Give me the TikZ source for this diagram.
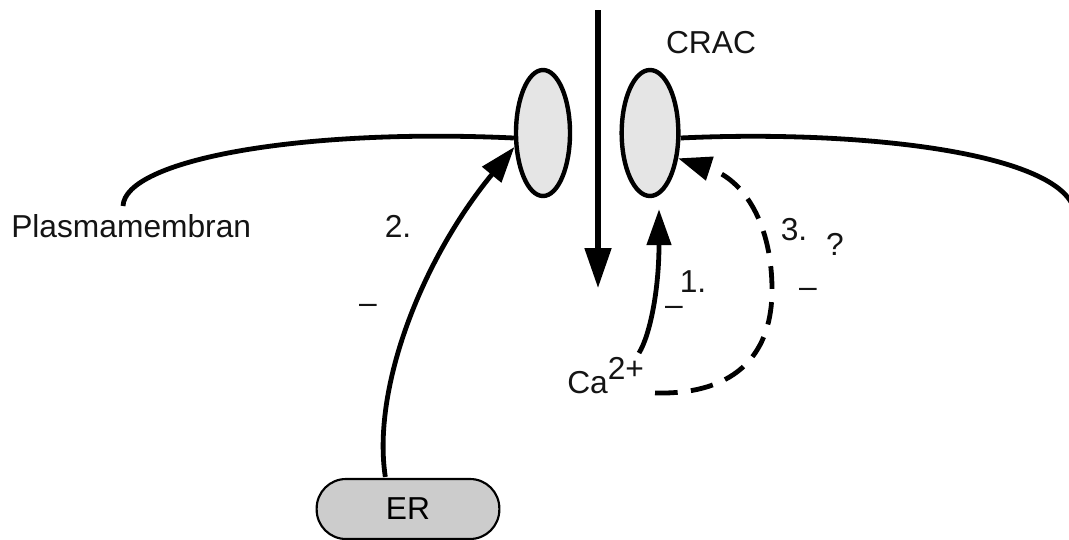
\documentclass[tikz,border=0pt]{standalone}
\usepackage{fontspec}
\setmainfont{Liberation Sans}
\usetikzlibrary{arrows.meta,shapes.geometric}
\begin{document}
\begin{tikzpicture}[x=0.75pt,y=-0.75pt,
  lbl/.style={inner sep=0pt,font=\fontsize{23.8}{28}\selectfont,text=black!92},
  chan/.style={ellipse,draw,line width=3.3pt,fill=black!10,inner sep=0pt,minimum width=40.5pt,minimum height=94.5pt},
  mem/.style={line width=3.6pt},
  arr/.style={line width=3.6pt,-{Triangle[length=27pt,width=18pt]}},
  erbox/.style={draw,line width=1.6pt,fill=black!20,rounded corners=22pt,minimum width=137pt,minimum height=45pt,inner sep=0pt}]
\useasboundingbox (0,0) rectangle (1069,539);
% channels
\node[chan] (L) at (543,133) {};
\node[chan,minimum width=42.5pt] (R) at (650,133) {};
% influx arrow
\coordinate (top) at (598,10);
\coordinate (bot) at (598,288);
\draw[line width=3.8pt,-{Triangle[length=30pt,width=19.5pt]}] (top) -- (bot);
% membrane
\coordinate (ml) at (123,206);
\coordinate (mr) at (1071,202);
\draw[mem] ([yshift=-3.75pt]L.west) .. controls (300,128) and (125,160) .. (ml);
\draw[mem] ([yshift=-3.75pt]R.east) .. controls (850,130) and (1040,150) .. (mr);
% labels
\node[lbl] (crac) at (711,43) {CRAC};
\node[lbl,anchor=west] (pm) at (11,226) {Plasmamembran};
\node[lbl] (n2) at (398,226) {2.};
\node[lbl] (m2) at (368,309) {–};
\node[lbl] (n1) at (693,282) {1.};
\node[lbl] (m1) at (674,311) {–};
\node[lbl] (n3) at (794,230) {3.};
\node[lbl] (q) at (835,244) {?};
\node[lbl] (m3) at (808,293) {–};
\node[lbl,anchor=base west] (ca) at (567,393) {Ca\raisebox{10pt}{2+}};
% ER
\node[erbox,font=\fontsize{23.8}{28}\selectfont] (er) at (408,509) {ER};
% arrow 2
\draw[arr] ([xshift=-17pt,yshift=0.75pt]er.north) .. controls (372,390) and (420,262) .. (L.206);
% arrow 1
\coordinate (c1) at (639,353);
\draw[arr] (c1) .. controls (650,335) and (659,290) .. ([xshift=6.75pt,yshift=-8.25pt]R.south);
% arrow 3 dashed
\coordinate (c3) at (655,393);
\coordinate (c3m) at (772,290);
\draw[line width=3.6pt,dash pattern=on 17pt off 10pt,-{Triangle[length=25pt,width=18pt]}] (c3) .. controls (740,395) and (772,350) .. (c3m) .. controls (772,225) and (745,180) .. (R.-42);
\end{tikzpicture}
\end{document}
